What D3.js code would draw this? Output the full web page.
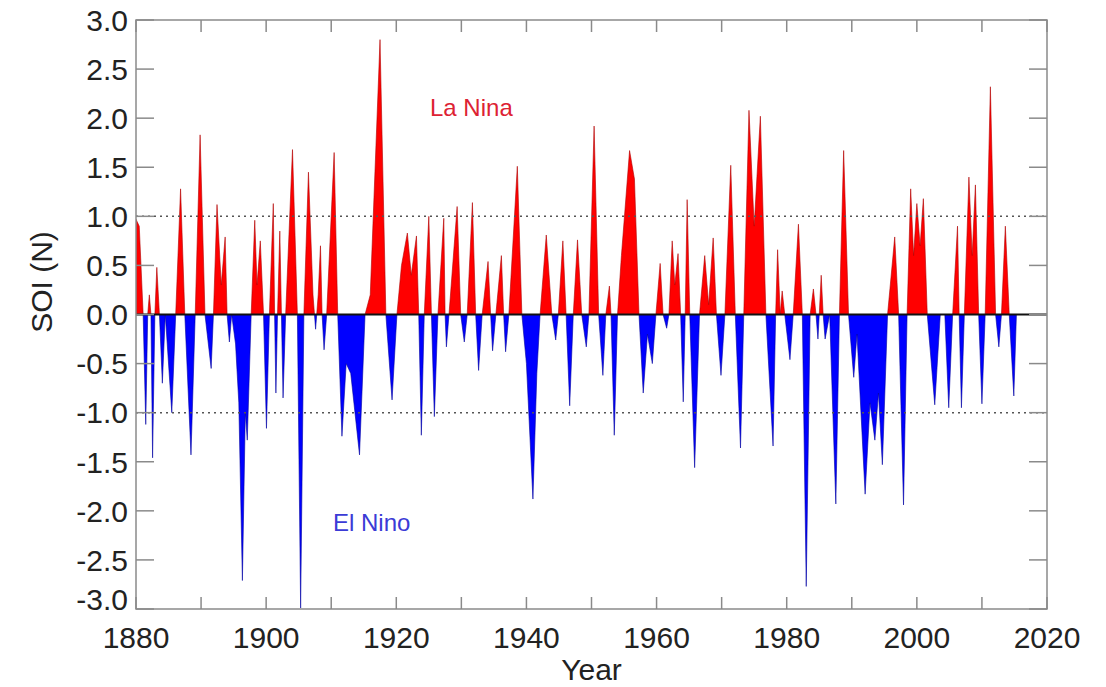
<!DOCTYPE html>
<html>
<head>
<meta charset="utf-8">
<script src="https://cdn.jsdelivr.net/npm/d3@7"></script>
<style>
    html, body { margin: 0; padding: 0; background: #fff; }
    svg text { font-family: "Liberation Sans", Arial, Helvetica, sans-serif; }
</style>
</head>
<body>
<div id="chart"></div>
<script>
/*
 * Series: decimal year and SOI value.
 */
var years = [
    1880.0, 1880.5, 1881.1, 1881.5, 1881.8, 1882.05, 1882.3, 1882.55, 1882.9, 1883.2,
    1883.6, 1884.05, 1884.5, 1885.5, 1886.1, 1886.85, 1887.5, 1888.45, 1889.1, 1889.85,
    1890.6, 1891.55, 1891.9, 1892.45, 1893.1, 1893.7, 1894.0, 1894.35, 1894.7, 1895.3,
    1895.8, 1896.35, 1896.8, 1897.1, 1897.7, 1898.25, 1898.6, 1899.1, 1899.6, 1900.05,
    1900.5, 1901.1, 1901.3, 1901.5, 1901.75, 1902.1, 1902.35, 1902.6, 1903.0, 1904.05,
    1904.8, 1905.3, 1905.8, 1906.5, 1907.2, 1907.6, 1908.0, 1908.35, 1908.6, 1908.9,
    1909.3, 1910.45, 1911.0, 1911.65, 1912.3, 1913.0, 1914.35, 1915.2, 1916.0, 1917.5,
    1918.4, 1919.35, 1920.1, 1920.8, 1921.7, 1922.3, 1923.1, 1923.45, 1923.85, 1924.3,
    1925.0, 1925.4, 1925.85, 1926.4, 1927.3, 1927.5, 1927.7, 1928.1, 1929.35, 1929.9,
    1930.45, 1930.9, 1931.7, 1932.2, 1932.65, 1933.2, 1934.1, 1934.5, 1934.8, 1935.3,
    1936.15, 1936.5, 1936.8, 1937.3, 1938.6, 1939.3, 1940.0, 1941.0, 1941.6, 1942.1,
    1943.05, 1943.9, 1944.5, 1944.9, 1945.6, 1946.1, 1946.65, 1947.2, 1947.85, 1948.5,
    1949.2, 1949.6, 1950.4, 1951.1, 1951.75, 1952.2, 1952.75, 1953.0, 1953.5, 1954.0,
    1954.6, 1955.85, 1956.6, 1957.3, 1957.95, 1958.6, 1959.35, 1959.9, 1960.55, 1961.0,
    1961.55, 1961.9, 1962.4, 1962.8, 1963.3, 1963.7, 1964.1, 1964.4, 1964.7, 1965.1,
    1965.85, 1966.6, 1967.4, 1968.0, 1968.7, 1969.2, 1969.9, 1970.5, 1971.4, 1972.1,
    1972.9, 1973.4, 1974.2, 1975.0, 1975.95, 1976.8, 1977.9, 1978.3, 1978.6, 1979.0,
    1979.3, 1979.7, 1980.5, 1981.0, 1981.8, 1982.4, 1983.0, 1983.6, 1984.1, 1984.5,
    1984.8, 1985.0, 1985.3, 1985.6, 1985.9, 1986.6, 1987.55, 1988.1, 1988.75, 1989.5,
    1990.3, 1990.8, 1992.05, 1992.8, 1993.55, 1994.1, 1994.7, 1995.5, 1996.6, 1997.2,
    1997.95, 1998.5, 1999.05, 1999.5, 2000.0, 2000.5, 2001.0, 2001.6, 2002.75, 2003.6,
    2004.3, 2004.9, 2005.5, 2006.25, 2006.5, 2006.85, 2007.3, 2008.0, 2008.5, 2009.0,
    2009.5, 2010.0, 2010.5, 2011.3, 2012.1, 2012.6, 2013.0, 2013.6, 2014.2, 2014.9,
    2015.3
];

var soi = [
    0.97, 0.90, 0.00, -1.12, 0.00, 0.20, 0.00, -1.46, 0.00, 0.48,
    0.00, -0.70, 0.00, -1.00, 0.00, 1.28, 0.00, -1.43, 0.00, 1.83,
    0.00, -0.55, 0.00, 1.12, 0.30, 0.79, 0.00, -0.28, 0.00, -0.30,
    -0.90, -2.71, -1.00, -1.28, 0.00, 0.96, 0.30, 0.75, 0.00, -1.16,
    0.00, 1.13, 0.00, -0.80, 0.00, 0.85, 0.00, -0.85, 0.00, 1.68,
    0.00, -2.99, 0.00, 1.45, 0.20, -0.15, 0.20, 0.70, 0.00, -0.36,
    0.00, 1.65, 0.00, -1.24, -0.50, -0.60, -1.43, 0.00, 0.20, 2.80,
    0.00, -0.87, 0.00, 0.50, 0.83, 0.40, 0.80, 0.00, -1.23, 0.00,
    1.00, 0.00, -1.04, 0.00, 0.98, 0.00, -0.33, 0.00, 1.10, 0.00,
    -0.28, 0.00, 1.14, 0.00, -0.57, 0.00, 0.54, 0.00, -0.37, 0.00,
    0.60, 0.00, -0.38, 0.00, 1.51, 0.00, -0.50, -1.88, -0.60, 0.00,
    0.81, 0.00, -0.26, 0.00, 0.75, 0.00, -0.93, 0.00, 0.76, 0.00,
    -0.33, 0.00, 1.92, 0.00, -0.62, 0.00, 0.29, 0.00, -1.23, 0.00,
    0.60, 1.67, 1.38, 0.00, -0.80, -0.20, -0.50, 0.00, 0.52, 0.00,
    -0.14, 0.00, 0.75, 0.30, 0.62, 0.00, -0.89, 0.00, 1.17, 0.00,
    -1.56, 0.00, 0.60, 0.10, 0.78, 0.00, -0.62, 0.00, 1.52, 0.00,
    -1.36, 0.00, 2.08, 0.90, 2.02, 0.00, -1.34, 0.00, 0.66, 0.00,
    0.24, 0.00, -0.46, 0.00, 0.92, 0.00, -2.77, 0.00, 0.26, 0.00,
    -0.25, 0.00, 0.40, 0.00, -0.25, 0.00, -1.93, 0.00, 1.67, 0.00,
    -0.64, -0.20, -1.83, -0.90, -1.28, -0.80, -1.53, 0.00, 0.79, 0.00,
    -1.94, 0.00, 1.28, 0.60, 1.13, 0.70, 1.18, 0.00, -0.92, 0.00,
    0.00, -0.95, 0.00, 0.90, 0.00, -0.95, 0.00, 1.40, 0.60, 1.32,
    0.00, -0.91, 0.00, 2.32, 0.00, -0.33, 0.00, 0.90, 0.00, -0.83,
    0.00
];

/*
 * Axis ticks and labels.
 */
var yearTicks = [1880, 1890, 1900, 1910, 1920, 1930, 1940, 1950, 1960, 1970, 1980, 1990, 2000, 2010, 2020];
var yearLabels = [1880, 1900, 1920, 1940, 1960, 1980, 2000, 2020];
var soiTicks = [-3.0, -2.5, -2.0, -1.5, -1.0, -0.5, 0.0, 0.5, 1.0, 1.5, 2.0, 2.5, 3.0];
var refLines = [-1.0, 1.0];


function SoiChart() {
    this._width = 1106;
    this._height = 687;
    this._box = { left: 136, right: 1047, top: 20, bottom: 609 };
    this._xScale = d3.scaleLinear().domain([1880, 2020]).range([this._box.left, this._box.right]);
    this._yScale = d3.scaleLinear().domain([-3, 3]).range([this._box.bottom, this._box.top]);
}


SoiChart.prototype.renderTo = function(selection) {

    var x = this._xScale, y = this._yScale, box = this._box;

    this._svg = d3.select(selection).append('svg')
        .attr('width', this._width)
        .attr('height', this._height);

    var defs = this._svg.append('defs');
    /*
     * Clip the same area above and below zero.
     */
    defs.append('clipPath').attr('id', 'clip-pos')
        .append('rect')
        .attr('x', box.left).attr('y', box.top)
        .attr('width', box.right - box.left).attr('height', y(0) - box.top);
    defs.append('clipPath').attr('id', 'clip-neg')
        .append('rect')
        .attr('x', box.left).attr('y', y(0))
        .attr('width', box.right - box.left).attr('height', box.bottom - y(0));

    var data = years.map(function(d, i) { return { year: d, value: soi[i] }; });

    var area = d3.area()
        .x(function(d) { return x(d.year); })
        .y0(y(0))
        .y1(function(d) { return y(d.value); });

    this._svg.append('path')
        .datum(data)
        .attr('clip-path', 'url(#clip-pos)')
        .attr('fill', '#ff0000')
        .attr('stroke', '#b00000')
        .attr('stroke-width', 0.6)
        .attr('d', area);

    this._svg.append('path')
        .datum(data)
        .attr('clip-path', 'url(#clip-neg)')
        .attr('fill', '#0000ff')
        .attr('stroke', '#0000a0')
        .attr('stroke-width', 0.6)
        .attr('d', area);

    /*
     * Dotted reference lines and the zero line.
     */
    this._svg.selectAll('line.ref')
        .data(refLines)
        .enter().append('line')
        .attr('class', 'ref')
        .attr('x1', box.left).attr('x2', box.right)
        .attr('y1', function(d) { return y(d); })
        .attr('y2', function(d) { return y(d); })
        .attr('stroke', '#555')
        .attr('stroke-width', 1.5)
        .attr('stroke-dasharray', '2,4');

    this._svg.append('line')
        .attr('x1', box.left).attr('x2', box.right)
        .attr('y1', y(0)).attr('y2', y(0))
        .attr('stroke', '#111')
        .attr('stroke-width', 2);

    this._drawFrame();

    /*
     * Annotations.
     */
    this._svg.append('text')
        .attr('x', 430).attr('y', 116)
        .attr('font-size', 24)
        .attr('fill', '#dd2233')
        .text('La Nina');

    this._svg.append('text')
        .attr('x', 333).attr('y', 531)
        .attr('font-size', 24)
        .attr('fill', '#3b3bd6')
        .text('El Nino');

    return this;
};


SoiChart.prototype._drawFrame = function() {

    var x = this._xScale, y = this._yScale, box = this._box;
    var frame = this._svg.append('g').attr('class', 'frame');
    var tickColor = '#8a8a8a';
    var xTickLen = 12, yTickLen = 18;

    frame.append('rect')
        .attr('x', box.left).attr('y', box.top)
        .attr('width', box.right - box.left).attr('height', box.bottom - box.top)
        .attr('fill', 'none')
        .attr('stroke', tickColor)
        .attr('stroke-width', 1.5);

    /*
     * Inward ticks on all four sides.
     */
    yearTicks.forEach(function(t) {
        frame.append('line')
            .attr('x1', x(t)).attr('x2', x(t))
            .attr('y1', box.bottom).attr('y2', box.bottom - xTickLen)
            .attr('stroke', tickColor).attr('stroke-width', 1.5);
        frame.append('line')
            .attr('x1', x(t)).attr('x2', x(t))
            .attr('y1', box.top).attr('y2', box.top + xTickLen)
            .attr('stroke', tickColor).attr('stroke-width', 1.5);
    });

    soiTicks.forEach(function(t) {
        frame.append('line')
            .attr('x1', box.left).attr('x2', box.left + yTickLen)
            .attr('y1', y(t)).attr('y2', y(t))
            .attr('stroke', tickColor).attr('stroke-width', 1.5);
        frame.append('line')
            .attr('x1', box.right).attr('x2', box.right - yTickLen)
            .attr('y1', y(t)).attr('y2', y(t))
            .attr('stroke', tickColor).attr('stroke-width', 1.5);
    });

    frame.selectAll('text.ylab')
        .data(soiTicks)
        .enter().append('text')
        .attr('class', 'ylab')
        .attr('x', box.left - 8)
        .attr('y', function(d) { return y(d) + (d === -3 ? -10 : 0); })
        .attr('dy', '0.36em')
        .attr('text-anchor', 'end')
        .attr('font-size', 30)
        .attr('fill', '#222')
        .text(function(d) { return d3.format('.1f')(d).replace('\u2212', '-'); });

    frame.selectAll('text.xlab')
        .data(yearLabels)
        .enter().append('text')
        .attr('class', 'xlab')
        .attr('x', function(d) { return x(d); })
        .attr('y', box.bottom + 39)
        .attr('text-anchor', 'middle')
        .attr('font-size', 30)
        .attr('fill', '#222')
        .text(function(d) { return d; });

    frame.append('text')
        .attr('x', (box.left + box.right) / 2)
        .attr('y', 680)
        .attr('text-anchor', 'middle')
        .attr('font-size', 30)
        .attr('fill', '#222')
        .text('Year');

    frame.append('text')
        .attr('transform', 'translate(52,' + 282 + ') rotate(-90)')
        .attr('text-anchor', 'middle')
        .attr('font-size', 30)
        .attr('fill', '#222')
        .text('SOI (N)');
};


new SoiChart().renderTo('#chart');
</script>
</body>
</html>
